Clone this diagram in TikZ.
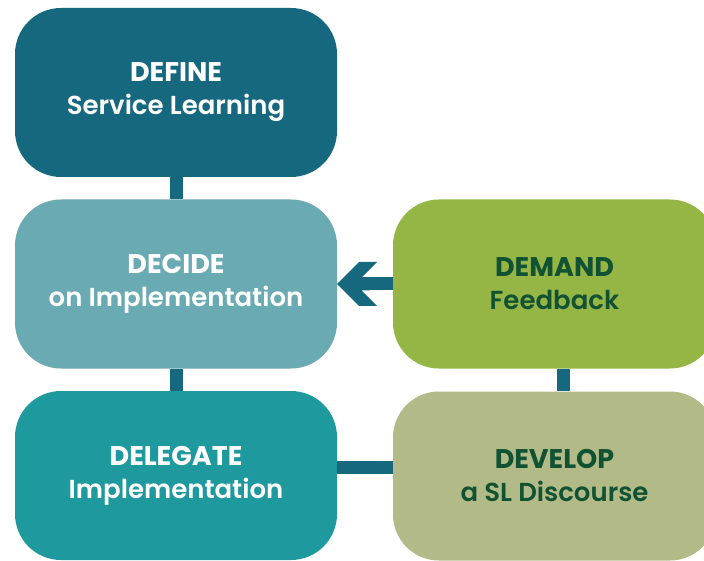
\documentclass[tikz,border=0pt]{standalone}
\usepackage{fontspec}
\setmainfont{Poppins}
\newfontfamily\titlefont{Poppins Bold}
\newfontfamily\subfont{Poppins SemiBold}
\definecolor{cdefine}{HTML}{16687E}
\definecolor{cdecide}{HTML}{6AABB3}
\definecolor{cdelegate}{HTML}{1E9A9E}
\definecolor{cdemand}{HTML}{95B545}
\definecolor{cdevelop}{HTML}{B2BB87}
\definecolor{cdark}{HTML}{115232}
\newcommand{\tline}[1]{{\titlefont\fontsize{27}{33}\selectfont #1}}
\newcommand{\sline}[1]{{\subfont\fontsize{26}{33}\selectfont #1}}
\begin{document}
\begin{tikzpicture}[x=1pt,y=-1pt,
  box/.style={rounded corners=46pt, minimum width=322pt, minimum height=169pt,
    inner sep=0pt, align=center, text=white, font=\fontsize{26}{33}\selectfont},
  gbox/.style={box, text=cdark},
  bar/.style={line width=13pt, draw=cdefine}]
\useasboundingbox (0,0) rectangle (704,561);
\node[box, fill=cdefine] (define) at (176,92.5) {\tline{DEFINE}\\\sline{Service Learning}};
\node[box, fill=cdecide] (decide) at (176,284) {\tline{DECIDE}\\\sline{on Implementation}};
\node[box, fill=cdelegate] (delegate) at (176,475.5) {\tline{DELEGATE}\\\sline{Implementation}};
\node[gbox, fill=cdemand, minimum width=323pt] (demand) at (554.5,284) {\tline{DEMAND}\\\sline{Feedback}};
\node[gbox, fill=cdevelop, minimum width=323pt] (develop) at (554.5,476) {\tline{DEVELOP}\\\sline{a SL Discourse}};
\draw[bar] (define.south) -- (decide.north);
\draw[bar] (decide.south) -- (delegate.north);
\draw[bar] ([yshift=8.5pt]delegate.east) -- ([yshift=8.5pt]delegate.east -| develop.west);
\draw[bar] ([xshift=9pt]demand.south) -- ([xshift=9pt]develop.north);
\draw[bar] ([xshift=24pt]decide.east) -- (demand.west);
\fill[cdefine] (decide.east) -- ++(22,-22) -- ++(18,0) -- ++(-15.5,15.5) -- ++(8,0)
  -- ++(0,13) -- ++(-8,0) -- ++(15.5,15.5) -- ++(-18,0) -- cycle;
\end{tikzpicture}
\end{document}
